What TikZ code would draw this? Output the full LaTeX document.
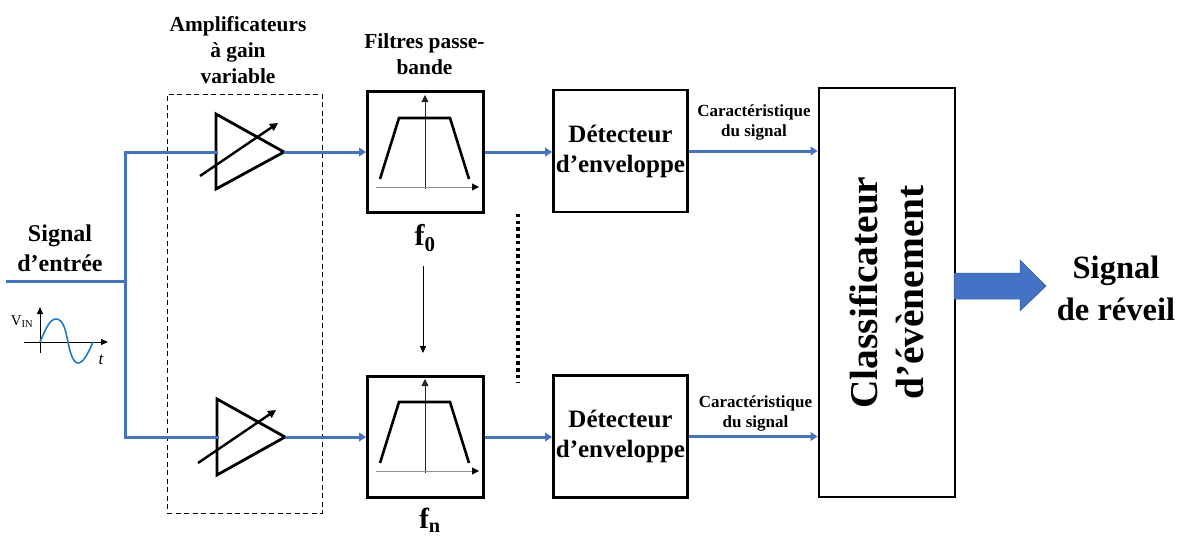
\documentclass[tikz,border=0pt]{standalone}
\usepackage{fontspec}
\setmainfont{Liberation Serif}
\usetikzlibrary{arrows.meta}
\definecolor{sigblue}{HTML}{4472C4}
\definecolor{sineblue}{HTML}{1F7AC4}
\tikzset{
  x=1pt,y=-1pt,
  boxnode/.style={draw=black,line width=2.8pt,inner sep=0pt,align=center,font=\bfseries\fontsize{25}{30}\selectfont},
  filterbox/.style={boxnode,minimum width=116pt,minimum height=121pt},
  detbox/.style={boxnode,minimum width=134pt,minimum height=122pt},
  sig/.style={draw=sigblue,line width=3pt},
  sigarrow/.style={sig,-{Triangle[length=7pt,width=8.5pt]}},
  amp/.style={draw=black,line width=2.8pt,line join=miter},
  gain/.style={draw=black,line width=2.4pt,-{Triangle[length=8pt,width=8pt]}},
  curve/.style={draw=black,line width=2.6pt},
  axisv/.style={draw=black!85,line width=0.8pt,-{Triangle[length=7pt,width=7pt]}},
  axish/.style={draw=black!45,line width=1pt},
  lab/.style={inner sep=0pt,align=center,font=\bfseries},
}
\newcommand{\filtergraph}[1]{%
  \begin{scope}[shift={(0,#1)}]
    \draw[axisv] (425,189) -- (425,95);
    \draw[axish,-{Triangle[length=7pt,width=7pt,fill=black,color=black]}] (376,187) -- (479,187);
    \draw[curve] (380,179) -- (399,118) -- (450,118) -- (469,179);
  \end{scope}}
\begin{document}
\begin{tikzpicture}
\useasboundingbox (0,0) rectangle (1183,536);
% dashed group
\node[draw=black,dash pattern=on 5pt off 3.5pt,line width=0.9pt,minimum width=155pt,minimum height=419pt,inner sep=0pt] (group) at (244.5,303.5) {};
% blocks
\node[filterbox] (f0) at (425.5,152) {};
\node[filterbox] (fn) at (425.5,437) {};
\node[detbox] (d0) at (620.5,151) {\raisebox{-1pt}{Détecteur}\\\raisebox{-1pt}{d’enveloppe}};
\node[detbox] (dn) at (620.5,436.5) {\raisebox{-1pt}{Détecteur}\\\raisebox{-1pt}{d’enveloppe}};
\node[boxnode,minimum width=136pt,minimum height=409pt] (cl) at (887,292.5) {};
\node[inner sep=0pt,rotate=90,align=center,font=\bfseries\fontsize{39.4}{46}\selectfont] (cltext) at (887,292.5) {Classificateur\\d’évènement};
% amplifiers
\coordinate (a0in) at (216,152);
\coordinate (a0out) at (284,152);
\coordinate (a1in) at (217,437);
\coordinate (a1out) at (285,437);
\draw[amp] (216,114) -- (a0out) -- (216,189) -- cycle;
\draw[amp] (217,399) -- (a1out) -- (217,475) -- cycle;
\coordinate (g0s) at (200,176); \coordinate (g0e) at (278,123);
\coordinate (g1s) at (198,463); \coordinate (g1e) at (276,410);
\draw[gain] (g0s) -- (g0e);
\draw[gain] (g1s) -- (g1e);
\filtergraph{0}
\filtergraph{284}
% signal wiring
\coordinate (in) at (6,281);
\coordinate (jn) at (125,281);
\coordinate (top) at (125,152);
\coordinate (bot) at (125,437);
\draw[sig,line cap=rect] (a0in) -- (top) -- (bot) -- (a1in);
\draw[sig] (in) -- (jn);
\draw[sigarrow] (a0out) -- (f0.west);
\draw[sigarrow] (a1out) -- (fn.west);
\draw[sigarrow] (f0.east) -- (f0.east -| d0.west);
\draw[sigarrow] (fn.east) -- (fn.east -| dn.west);
\draw[sigarrow] (d0.east) -- (d0.east -| cl.west);
\draw[sigarrow] (dn.east) -- (dn.east -| cl.west);
% f0 -> fn
\coordinate (r0) at (423,266); \coordinate (r1) at (423,353);
\draw[draw=black,line width=0.9pt,-{Triangle[length=7pt,width=6pt]}] (r0) -- (r1);
% dotted separator
\coordinate (s0) at (518,214); \coordinate (s1) at (518,383);
\draw[draw=black,line width=4pt,dash pattern=on 3.4pt off 3.3pt] (s0) -- (s1);
% output arrow
\draw[draw=sigblue!80!black,line width=0.5pt,fill=sigblue] (954,273) -- (1020,273) -- (1020,260) -- (1046,286) -- (1020,311) -- (1020,299) -- (954,299) -- cycle;
% labels
\node[lab,font=\bfseries\fontsize{21.4}{26}\selectfont] (lamp) at (238,50) {Amplificateurs\\à gain\\variable};
\node[lab,font=\bfseries\fontsize{21.4}{26}\selectfont] (lfil) at (424.5,54) {Filtres passe-\\bande};
\node[lab,font=\bfseries\fontsize{30}{30}\selectfont] (lf0) at (425,238) {f$_{\mathbf{0}}$};
\node[lab,font=\bfseries\fontsize{29}{30}\selectfont] (lfn) at (430,520.5) {f$_{\mathbf{n}}$};
\node[lab,font=\bfseries\fontsize{24}{30}\selectfont] (lin) at (60,248) {Signal\\d’entrée};
\node[lab,font=\bfseries\fontsize{17}{20}\selectfont] (lc0) at (754,122) {Caractéristique\\du signal};
\node[lab,font=\bfseries\fontsize{17}{20}\selectfont] (lc1) at (755.5,413) {Caractéristique\\du signal};
\node[lab,font=\bfseries\fontsize{32.5}{42}\selectfont] (lout) at (1116,288) {Signal\\de réveil};
% V_IN sketch
\draw[draw=black,line width=1pt,-{Triangle[length=7pt,width=6pt]}] (40,353) -- (40,307);
\draw[draw=black,line width=1pt,-{Triangle[length=7pt,width=6pt]}] (24,342) -- (108,342);
\draw[draw=sineblue,line width=1.6pt] (40,342) .. controls (46,328) and (50,319) .. (56,319) .. controls (64,319) and (66,333) .. (68,342) .. controls (70,352) and (73,363) .. (78,363) .. controls (84,363) and (89,351) .. (93,342);
\node[inner sep=0pt,font=\fontsize{15}{15}\selectfont] (vin) at (22,322) {V\textsubscript{IN}};
\node[inner sep=0pt,font=\itshape\fontsize{17}{17}\selectfont] (tl) at (101,360) {t};
\end{tikzpicture}
\end{document}
